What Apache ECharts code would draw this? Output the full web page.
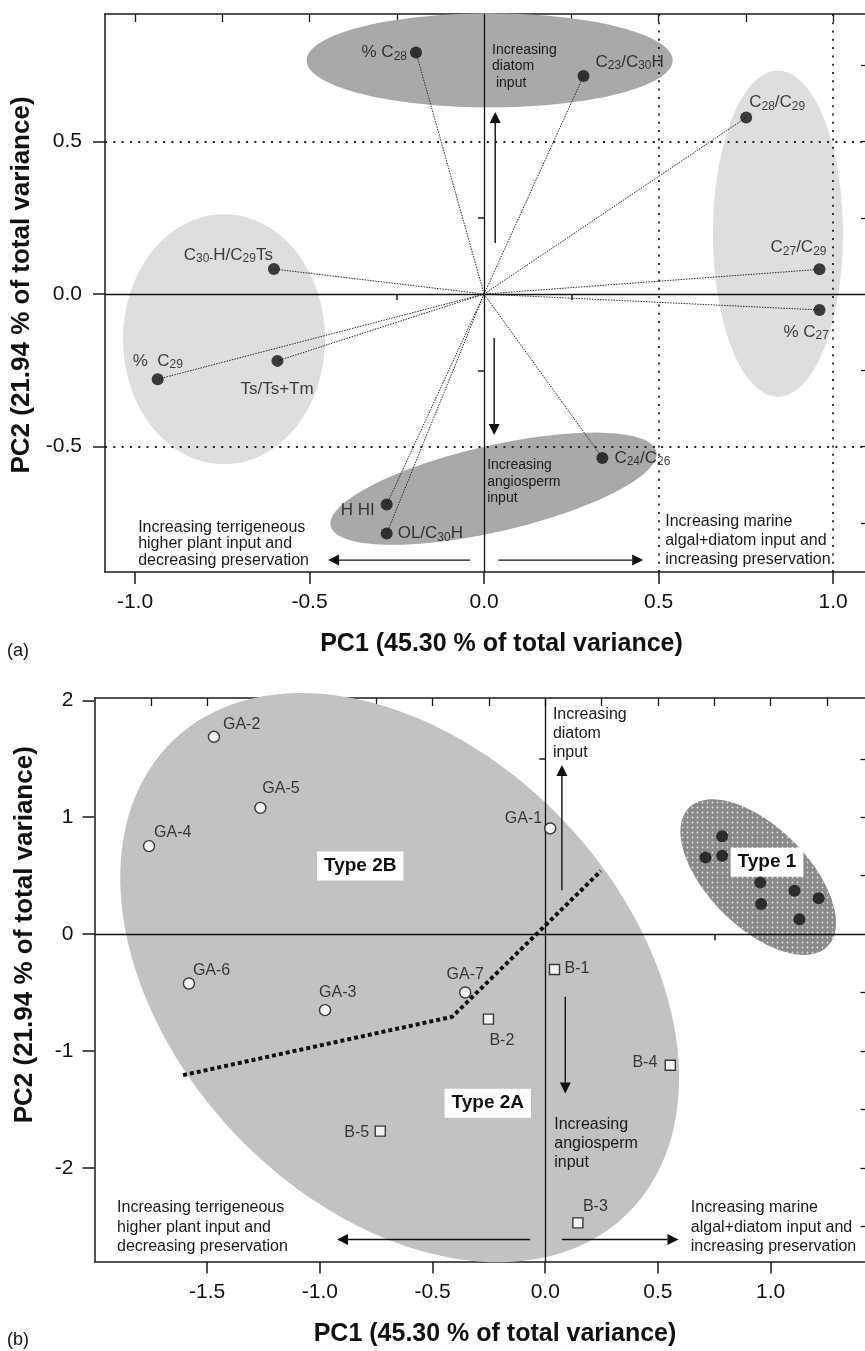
<!DOCTYPE html>
<html><head><meta charset="utf-8">
<script src="https://cdn.jsdelivr.net/npm/echarts@6/dist/echarts.min.js"></script>
<style>html,body{margin:0;padding:0;background:#fff}#c{width:865px;height:1351px}</style>
</head><body><div id="c"></div><script>
const FONT = '"Liberation Sans", Arial, Helvetica, sans-serif';
const AX = '#1a1a1a';

// ---------- Panel (a): variable loadings ----------
const loadNames = ['%C28', 'C23/C30H', 'C28/C29', 'C27/C29', '%C27', 'C30-H/C29Ts', '%C29', 'Ts/Ts+Tm', 'HHI', 'OL/C30H', 'C24/C26'];
const loadPC1 = [-0.195, 0.285, 0.751, 0.961, 0.961, -0.602, -0.935, -0.592, -0.279, -0.279, 0.339];
const loadPC2 = [0.792, 0.715, 0.579, 0.081, -0.052, 0.082, -0.279, -0.219, -0.690, -0.785, -0.537];
const loadLabels = ['% C{s|28}', 'C{s|23}/C{s|30}H', 'C{s|28}/C{s|29}', 'C{s|27}/C{s|29}', '% C{s|27}',
  'C{s|30-}H/C{s|29}Ts', '%  C{s|29}', 'Ts/Ts+Tm', 'H HI', 'OL/C{s|30}H', 'C{s|24}/C{s|26}'];

const aXMajor = [-1.0, -0.5, 0.0, 0.5, 1.0];
const aXMinor = [-0.75, -0.25, 0.25, 0.75];
const aYMajor = [-0.5, 0.0, 0.5];
const aYMinor = [-0.75, -0.25, 0.25, 0.75];
const aXInner = [-1.0, -0.75, -0.5, -0.25, 0.0, 0.25, 0.5, 0.75, 1.0];
const aYInner = [-0.75, -0.5, -0.25, 0.25, 0.5, 0.75];

// ---------- Panel (b): sample scores ----------
const gaNames = ['GA-1', 'GA-2', 'GA-3', 'GA-4', 'GA-5', 'GA-6', 'GA-7'];
const gaPC1 = [0.022, -1.470, -0.977, -1.758, -1.264, -1.581, -0.355];
const gaPC2 = [0.904, 1.688, -0.650, 0.753, 1.080, -0.422, -0.499];
const bNames = ['B-1', 'B-2', 'B-3', 'B-4', 'B-5'];
const bPC1 = [0.041, -0.252, 0.145, 0.555, -0.732];
const bPC2 = [-0.302, -0.727, -2.470, -1.121, -1.685];
const t1PC1 = [0.711, 0.785, 0.785, 0.954, 0.958, 1.106, 1.213, 1.128];
const t1PC2 = [0.656, 0.838, 0.670, 0.442, 0.257, 0.371, 0.308, 0.128];

const bXMajor = [-1.5, -1.0, -0.5, 0.0, 0.5, 1.0];
const bXMinor = [-1.75, -1.25, -0.75, -0.25, 0.25, 0.75, 1.25];
const bYMajor = [-2, -1, 0, 1, 2];
const bYMinor = [-2.5, -1.5, -0.5, 0.5, 1.5];
const bXInner = [-1.75, -1.5, -1.25, -1.0, -0.75, -0.5, -0.25, 0.0, 0.25, 0.5, 0.75, 1.0, 1.25];
const bYInner = [-2.5, -2, -1.5, -1, -0.5, 0.5, 1, 1.5];

// dividing line between Type 2A and 2B (PC1, PC2 vertices)
const dividerPC1 = [-1.607, -0.413, 0.247];
const dividerPC2 = [-1.206, -0.707, 0.541];

// ---------- annotations (placement/style) ----------
const dotCanvas = document.createElement('canvas');
dotCanvas.width = 5; dotCanvas.height = 5;
(function(){ const g = dotCanvas.getContext('2d'); g.fillStyle = '#8a8a8a'; g.fillRect(0,0,5,5);
  g.fillStyle = '#e6e6e6'; g.beginPath(); g.arc(2.5, 2.5, 0.9, 0, Math.PI*2); g.fill(); })();

const aShapes = [
  {c: [0.016, 0.766], rx: 183, ry: 47, rot: 0, fill: '#a9a9a9'},
  {c: [-0.745, -0.148], rx: 101, ry: 125, rot: 0, fill: '#dedede'},
  {c: [0.842, 0.198], rx: 65, ry: 163, rot: 0, fill: '#dedede'},
  {c: [0.027, -0.638], rx: 167, ry: 43, rot: -12.9, fill: '#a9a9a9'}
];
const bShapes = [
  {c: [-0.646, -0.372], rx: 328, ry: 227, rot: 46.5, fill: '#c2c2c2'},
  {c: [0.945, 0.488], rx: 98, ry: 50, rot: 45, fill: {image: dotCanvas, repeat: 'repeat'}}
];
const aArrows = [[0.032, 0.167, 0.032, 0.597], [0.029, -0.144, 0.029, -0.462], [-0.04, -0.872, -0.447, -0.872], [0.041, -0.872, 0.456, -0.872]];
const bArrows = [[0.074, 0.376, 0.074, 1.446], [0.089, -0.536, 0.089, -1.363], [-0.067, -2.612, -0.924, -2.612], [0.074, -2.612, 0.591, -2.612]];
const aNotes = [
  {p: [0.023, 0.828], t: 'Increasing\ndiatom\n input', fs: 14, lh: 16.7},
  {p: [0.009, -0.533], t: 'Increasing\nangiosperm\ninput', fs: 14, lh: 16.7},
  {p: [-0.991, -0.737], t: 'Increasing terrigeneous\nhigher plant input and\ndecreasing preservation', fs: 16, lh: 16.7},
  {p: [0.519, -0.716], t: 'Increasing marine\nalgal+diatom input and\nincreasing preservation', fs: 16, lh: 19}
];
const bNotes = [
  {p: [0.034, 1.961], t: 'Increasing\ndiatom\ninput', fs: 16, lh: 19.2},
  {p: [0.040, -1.544], t: 'Increasing\nangiosperm\ninput', fs: 16, lh: 19.2},
  {p: [-1.900, -2.254], t: 'Increasing terrigeneous\nhigher plant input and\ndecreasing preservation', fs: 16, lh: 19.7},
  {p: [0.646, -2.254], t: 'Increasing marine\nalgal+diatom input and\nincreasing preservation', fs: 16, lh: 19.7}
];
const bTypes = [{p: [-0.821, 0.582], t: 'Type 2B'}, {p: [-0.255, -1.446], t: 'Type 2A'}, {p: [0.984, 0.616], t: 'Type 1'}];

// label placement: [align, dx, dy]
const aLab = [['right', -9, 0], ['left', 12, -14], ['left', 3, -15], ['right', 7, -22], ['left', -36, 22],
  ['right', -1, -14], ['left', -25, -18], ['left', -37, 28], ['right', -12, 6], ['left', 11, 0], ['left', 12, 0]];
const gaLab = [['right', -8, -10], ['left', 9, -12], ['left', -6, -18], ['left', 5, -14], ['left', 2, -19], ['left', 4, -13], ['center', 0, -18]];
const bLab = [['left', 10, -1], ['left', 1, 21], ['left', 5, -16], ['right', -13, -3], ['right', -11, 1]];

// ---------- helpers ----------
function fmt1(v){ return Number(v).toFixed(1); }
function fmt0(v){ return String(Math.round(v)); }
const nameStyle = {fontWeight: 'bold', color: '#111', fontFamily: FONT};

function xAxesFor(gi, min, max, major, minor, inner, fmt, padL){
  return [
    {type: 'value', gridIndex: gi, min, max, position: 'bottom',
      axisLine: {show: true, onZero: false, lineStyle: {color: AX, width: 1.5}},
      axisTick: {show: true, customValues: major, length: 12, lineStyle: {color: AX, width: 1.5}},
      axisLabel: {show: true, customValues: major, formatter: fmt, fontSize: 21, color: '#111', margin: 20, fontFamily: FONT},
      splitLine: {show: false},
      name: 'PC1 (45.30 % of total variance)', nameLocation: 'middle', nameGap: 60,
      nameTextStyle: Object.assign({padding: [0, 0, 0, padL], fontSize: 25}, nameStyle)},
    {type: 'value', gridIndex: gi, min, max, position: 'bottom',
      axisLine: {show: false}, axisTick: {show: true, customValues: minor, length: 6, lineStyle: {color: AX, width: 1.5}},
      axisLabel: {show: false}, splitLine: {show: false}},
    {type: 'value', gridIndex: gi, min, max, position: 'top',
      axisLine: {show: true, onZero: false, lineStyle: {color: AX, width: 1.5}},
      axisTick: {show: true, inside: true, customValues: inner, length: 8, lineStyle: {color: AX, width: 1.3}},
      axisLabel: {show: false}, splitLine: {show: false}}
  ];
}
function yAxesFor(gi, min, max, major, minor, inner, fmt, margin, gap, padL){
  return [
    {type: 'value', gridIndex: gi, min, max, position: 'left',
      axisLine: {show: true, onZero: false, lineStyle: {color: AX, width: 1.5}},
      axisTick: {show: true, customValues: major, length: 12, lineStyle: {color: AX, width: 1.5}},
      axisLabel: {show: true, customValues: major, formatter: fmt, fontSize: 21, color: '#111', margin, fontFamily: FONT},
      splitLine: {show: false},
      name: 'PC2 (21.94 % of total variance)', nameLocation: 'middle', nameGap: gap,
      nameTextStyle: Object.assign({padding: [0, 0, 0, padL], fontSize: 26}, nameStyle)},
    {type: 'value', gridIndex: gi, min, max, position: 'left',
      axisLine: {show: false}, axisTick: {show: true, customValues: minor, length: 6, lineStyle: {color: AX, width: 1.5}},
      axisLabel: {show: false}, splitLine: {show: false}},
    {type: 'value', gridIndex: gi, min, max, position: 'right',
      axisLine: {show: true, onZero: false, lineStyle: {color: AX, width: 1.5}},
      axisTick: {show: true, inside: true, customValues: inner, length: 7, lineStyle: {color: AX, width: 1.3}},
      axisLabel: {show: false}, splitLine: {show: false}}
  ];
}

function ellipseSeries(shapes, xi){
  return {type: 'custom', xAxisIndex: xi, yAxisIndex: xi, z: 1, silent: true, clip: false,
    data: shapes.map(s => s.c),
    renderItem(params, api){
      const s = shapes[params.dataIndex];
      const c = api.coord([api.value(0), api.value(1)]);
      const th = s.rot * Math.PI / 180, pts = [];
      for (let i = 0; i < 144; i++){
        const t = i / 144 * Math.PI * 2, u = s.rx * Math.cos(t), v = s.ry * Math.sin(t);
        pts.push([c[0] + u*Math.cos(th) - v*Math.sin(th), c[1] + u*Math.sin(th) + v*Math.cos(th)]);
      }
      return {type: 'polygon', shape: {points: pts}, style: {fill: s.fill}};
    }};
}
function arrowSeries(arrows, xi){
  return {type: 'custom', xAxisIndex: xi, yAxisIndex: xi, z: 5, silent: true, clip: false,
    data: arrows,
    renderItem(params, api){
      const p1 = api.coord([api.value(0), api.value(1)]), p2 = api.coord([api.value(2), api.value(3)]);
      const dx = p2[0]-p1[0], dy = p2[1]-p1[1], L = Math.hypot(dx, dy), ux = dx/L, uy = dy/L;
      const hl = 11, hw = 5.5, b = [p2[0]-ux*hl, p2[1]-uy*hl];
      return {type: 'group', children: [
        {type: 'line', shape: {x1: p1[0], y1: p1[1], x2: b[0], y2: b[1]}, style: {stroke: '#111', lineWidth: 1.4}},
        {type: 'polygon', shape: {points: [p2, [b[0]-uy*hw, b[1]+ux*hw], [b[0]+uy*hw, b[1]-ux*hw]]}, style: {fill: '#111'}}
      ]};
    }};
}
function noteSeries(notes, xi){
  return {type: 'custom', xAxisIndex: xi, yAxisIndex: xi, z: 6, silent: true, clip: false,
    data: notes.map(n => n.p),
    renderItem(params, api){
      const n = notes[params.dataIndex];
      const p = api.coord([api.value(0), api.value(1)]);
      return {type: 'text', x: p[0], y: p[1], style: {text: n.t, fontSize: n.fs, fontFamily: FONT, fill: '#1a1a1a',
        align: 'left', verticalAlign: 'top', lineHeight: n.lh}};
    }};
}
function refLines(xi, items){
  return {type: 'line', xAxisIndex: xi, yAxisIndex: xi, data: [], z: 3, silent: true,
    markLine: {silent: true, symbol: ['none', 'none'], label: {show: false}, animation: false, data: items}};
}
const solid = {type: 'solid', color: '#111', width: 1.3};
const dotted = {type: [2, 6.3], color: '#222', width: 1.8};
const labelBase = (fs) => ({show: true, position: 'inside', color: '#111', fontSize: fs, fontFamily: FONT, verticalAlign: 'middle',
  rich: {s: {fontSize: 12, fontFamily: FONT, color: '#111', padding: [8, 0, 0, 0]}}});

const option = {
  animation: false,
  backgroundColor: '#fff',
  grid: [
    {left: 105, top: 14, width: 763, height: 558, outerBoundsMode: 'none', containLabel: false},
    {left: 94.5, top: 698, width: 773, height: 563.5, outerBoundsMode: 'none', containLabel: false}
  ],
  xAxis: [].concat(
    xAxesFor(0, -1.086, 1.1, aXMajor, aXMinor, aXInner, fmt1, 30),
    xAxesFor(1, -2.0, 1.43, bXMajor, bXMinor, bXInner, fmt1, 28)),
  yAxis: [].concat(
    yAxesFor(0, -0.911, 0.918, aYMajor, aYMinor, aYInner, fmt1, 23, 67, 16),
    yAxesFor(1, -2.8, 2.02, bYMajor, bYMinor, bYInner, fmt0, 21, 57, 90)),
  graphic: [
    {type: 'text', left: 7, top: 642, style: {text: '(a)', fontSize: 18, fontFamily: FONT, fill: '#111'}},
    {type: 'text', left: 7, top: 1331, style: {text: '(b)', fontSize: 18, fontFamily: FONT, fill: '#111'}}
  ],
  series: [
    // ---- panel (a)
    ellipseSeries(aShapes, 0),
    refLines(0, [{yAxis: 0, lineStyle: solid}, {xAxis: 0, lineStyle: solid},
      {yAxis: 0.5, lineStyle: dotted}, {yAxis: -0.5, lineStyle: dotted},
      {xAxis: 0.5, lineStyle: dotted}, {xAxis: 1.0, lineStyle: dotted}]),
    {type: 'custom', xAxisIndex: 0, yAxisIndex: 0, z: 4, silent: true, clip: false,
      data: loadPC1.map((x, i) => [x, loadPC2[i]]),
      renderItem(params, api){
        const o = api.coord([0, 0]), p = api.coord([api.value(0), api.value(1)]);
        return {type: 'line', shape: {x1: o[0], y1: o[1], x2: p[0], y2: p[1]},
          style: {stroke: '#2a2a2a', lineWidth: 1, lineDash: [1.5, 1.2]}};
      }},
    arrowSeries(aArrows, 0),
    noteSeries(aNotes, 0),
    {type: 'scatter', xAxisIndex: 0, yAxisIndex: 0, z: 10, symbol: 'circle', symbolSize: 12,
      itemStyle: {color: '#111'}, label: labelBase(17),
      data: loadNames.map((n, i) => ({name: n, value: [loadPC1[i], loadPC2[i]],
        label: {formatter: loadLabels[i], align: aLab[i][0], offset: [aLab[i][1], aLab[i][2]]}}))},
    // ---- panel (b)
    ellipseSeries(bShapes, 3),
    refLines(3, [{yAxis: 0, lineStyle: solid}, {xAxis: 0, lineStyle: solid}]),
    {type: 'line', xAxisIndex: 3, yAxisIndex: 3, z: 4, silent: true, symbol: 'none', showSymbol: false,
      data: dividerPC1.map((x, i) => [x, dividerPC2[i]]),
      lineStyle: {color: '#111', width: 4, type: [4, 3], cap: 'butt'}},
    arrowSeries(bArrows, 3),
    noteSeries(bNotes, 3),
    {type: 'custom', xAxisIndex: 3, yAxisIndex: 3, z: 7, silent: true, clip: false,
      data: bTypes.map(t => t.p),
      renderItem(params, api){
        const t = bTypes[params.dataIndex];
        const p = api.coord([api.value(0), api.value(1)]);
        return {type: 'text', x: p[0], y: p[1], style: {text: t.t, fontSize: 19, fontWeight: 'bold', fontFamily: FONT,
          fill: '#111', align: 'center', verticalAlign: 'middle', backgroundColor: '#fff', padding: [5, 7, 5, 7]}};
      }},
    {type: 'scatter', xAxisIndex: 3, yAxisIndex: 3, z: 10, symbol: 'circle', symbolSize: 11,
      itemStyle: {color: '#fff', borderColor: '#111', borderWidth: 1.4}, label: labelBase(16),
      data: gaNames.map((n, i) => ({name: n, value: [gaPC1[i], gaPC2[i]],
        label: {formatter: n, align: gaLab[i][0], offset: [gaLab[i][1], gaLab[i][2]]}}))},
    {type: 'scatter', xAxisIndex: 3, yAxisIndex: 3, z: 10, symbol: 'rect', symbolSize: 10,
      itemStyle: {color: '#fff', borderColor: '#111', borderWidth: 1.4}, label: labelBase(16),
      data: bNames.map((n, i) => ({name: n, value: [bPC1[i], bPC2[i]],
        label: {formatter: n, align: bLab[i][0], offset: [bLab[i][1], bLab[i][2]]}}))},
    {type: 'scatter', xAxisIndex: 3, yAxisIndex: 3, z: 10, symbol: 'circle', symbolSize: 12,
      itemStyle: {color: '#111'}, data: t1PC1.map((x, i) => [x, t1PC2[i]])}
  ]
};
const chart = echarts.init(document.getElementById('c'), null, {renderer: 'canvas'});
chart.setOption(option);
</script></body></html>
